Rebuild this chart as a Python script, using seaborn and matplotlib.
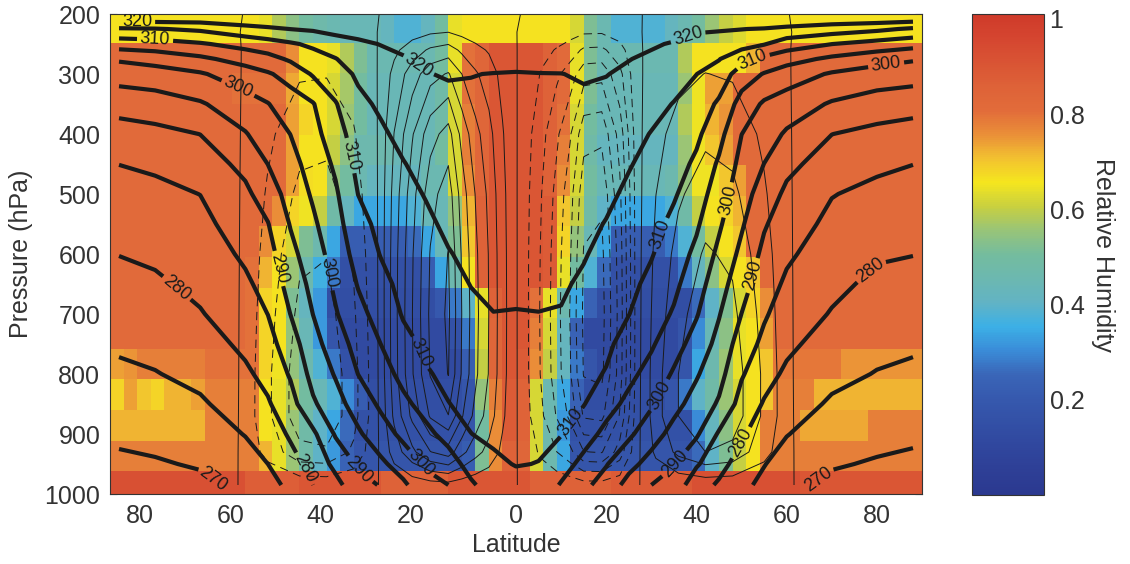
import numpy as np
import matplotlib
matplotlib.use("Agg")
import matplotlib.pyplot as plt
from matplotlib.transforms import ScaledTranslation
import seaborn as sns

# ---------------------------------------------------------------
# relative humidity (percent) per pressure band, 3 deg columns 90S..90N
# ---------------------------------------------------------------
lat_edges = list(range(-90, 91, 3))
p_edges = [200, 248, 299, 350, 401, 452, 503, 554, 605, 656, 707, 758, 809, 860, 911, 962, 1000]

rh_200 = [66, 66, 66, 66, 66, 66, 66, 66, 66, 66, 66, 64, 58, 54, 50, 47, 45, 44, 44, 44,
          42, 38, 38, 42, 50, 64, 66, 66, 66, 66, 66, 66, 66, 66, 62, 52, 45, 38, 38, 38,
          38, 42, 45, 50, 56, 60, 63, 66, 66, 66, 66, 66, 66, 66, 66, 66, 66, 66, 66, 66]
rh_248 = [82, 82, 82, 82, 82, 82, 82, 82, 82, 82, 82, 82, 82, 76, 66, 66, 64, 58, 52, 45,
          45, 45, 45, 45, 50, 64, 80, 84, 90, 90, 90, 90, 86, 82, 64, 52, 45, 45, 45, 45,
          45, 45, 58, 66, 66, 66, 66, 72, 82, 82, 82, 82, 82, 82, 82, 82, 82, 82, 82, 82]
rh_299 = [82, 82, 82, 82, 82, 82, 82, 82, 82, 80, 80, 80, 80, 73, 66, 66, 62, 57, 50, 44,
          44, 44, 44, 44, 48, 62, 80, 84, 90, 90, 90, 90, 86, 82, 64, 52, 44, 44, 44, 44,
          44, 44, 56, 65, 74, 74, 82, 82, 82, 82, 82, 82, 82, 82, 82, 82, 82, 82, 82, 82]
rh_350 = [82, 82, 82, 82, 82, 82, 82, 82, 82, 82, 82, 82, 82, 74, 68, 66, 62, 56, 50, 44,
          44, 44, 44, 44, 48, 62, 78, 84, 90, 90, 90, 90, 86, 80, 62, 50, 44, 44, 44, 44,
          44, 44, 58, 65, 72, 75, 82, 82, 82, 82, 82, 82, 82, 82, 82, 82, 82, 82, 82, 82]
rh_401 = [82, 82, 82, 82, 82, 82, 82, 82, 82, 82, 82, 82, 82, 74, 66, 66, 60, 54, 46, 46,
          46, 44, 44, 44, 50, 62, 78, 84, 90, 90, 90, 90, 86, 78, 62, 48, 42, 42, 42, 42,
          42, 42, 56, 65, 70, 74, 82, 82, 82, 82, 82, 82, 82, 82, 82, 82, 82, 82, 82, 82]
rh_452 = [82, 82, 82, 82, 82, 82, 82, 82, 82, 82, 82, 82, 82, 74, 67, 66, 55, 50, 45, 42,
          42, 42, 42, 45, 45, 62, 76, 84, 90, 90, 90, 90, 86, 76, 62, 50, 44, 44, 44, 44,
          44, 46, 55, 65, 65, 70, 74, 82, 82, 82, 82, 82, 82, 82, 82, 82, 82, 82, 82, 82]
rh_503 = [82, 82, 82, 82, 82, 82, 82, 82, 82, 82, 82, 82, 76, 68, 65, 60, 48, 42, 34, 34,
          34, 34, 38, 44, 44, 55, 72, 86, 90, 90, 90, 90, 88, 70, 60, 48, 40, 34, 34, 34,
          34, 38, 48, 60, 66, 68, 72, 82, 82, 82, 82, 82, 82, 82, 82, 82, 82, 82, 82, 82]
rh_554 = [82, 82, 82, 82, 82, 82, 82, 82, 82, 82, 82, 76, 68, 62, 52, 46, 34, 22, 22, 22,
          22, 22, 26, 34, 44, 52, 70, 86, 90, 90, 90, 90, 88, 68, 55, 44, 34, 22, 22, 22,
          22, 28, 38, 50, 60, 66, 70, 82, 82, 82, 82, 82, 82, 82, 82, 82, 82, 82, 82, 82]
rh_605 = [82, 82, 82, 82, 82, 82, 82, 82, 82, 82, 80, 72, 66, 56, 46, 36, 28, 15, 15, 15,
          15, 15, 15, 22, 34, 46, 66, 86, 90, 90, 90, 90, 88, 64, 50, 38, 26, 15, 15, 15,
          15, 15, 28, 42, 54, 62, 66, 70, 82, 82, 82, 82, 82, 82, 82, 82, 82, 82, 82, 82]
rh_656 = [82, 82, 82, 82, 82, 82, 82, 82, 82, 82, 80, 68, 66, 52, 42, 32, 14, 14, 14, 14,
          14, 14, 14, 14, 20, 28, 40, 64, 86, 90, 90, 80, 64, 46, 34, 24, 14, 14, 14, 14,
          14, 14, 14, 26, 40, 52, 62, 68, 76, 82, 82, 82, 82, 82, 82, 82, 82, 82, 82, 82]
rh_707 = [82, 82, 82, 82, 82, 82, 82, 82, 82, 82, 80, 68, 66, 55, 44, 32, 18, 12, 12, 12,
          12, 12, 12, 12, 12, 16, 28, 62, 84, 90, 90, 78, 62, 42, 24, 12, 12, 12, 12, 12,
          12, 12, 18, 30, 44, 54, 64, 66, 74, 82, 82, 82, 82, 82, 82, 82, 82, 82, 82, 82]
rh_758 = [74, 75, 78, 78, 78, 78, 78, 80, 80, 80, 80, 68, 65, 55, 46, 38, 28, 16, 12, 12,
          12, 12, 12, 12, 12, 12, 22, 60, 84, 90, 88, 76, 60, 42, 28, 18, 12, 12, 12, 12,
          12, 12, 18, 34, 46, 56, 64, 66, 70, 79, 79, 79, 79, 79, 75, 75, 75, 75, 75, 75]
rh_809 = [68, 74, 70, 68, 72, 72, 74, 78, 78, 78, 78, 66, 64, 58, 50, 44, 38, 30, 22, 14,
          14, 14, 14, 14, 14, 14, 18, 55, 78, 88, 85, 62, 45, 34, 24, 14, 14, 14, 14, 14,
          14, 18, 28, 40, 48, 56, 62, 66, 70, 78, 78, 78, 72, 72, 72, 72, 72, 72, 72, 72]
rh_860 = [72, 72, 72, 72, 72, 72, 72, 78, 78, 78, 78, 66, 64, 56, 48, 40, 34, 26, 16, 16,
          16, 16, 16, 16, 16, 16, 18, 50, 76, 88, 85, 62, 46, 32, 16, 16, 16, 16, 16, 16,
          16, 16, 16, 30, 42, 54, 62, 66, 78, 78, 78, 73, 73, 73, 73, 73, 78, 78, 78, 78]
rh_911 = [78, 78, 78, 78, 78, 78, 78, 78, 78, 78, 78, 72, 64, 56, 48, 40, 32, 24, 18, 18,
          18, 18, 18, 18, 18, 18, 22, 52, 76, 86, 84, 62, 46, 34, 18, 18, 18, 18, 18, 18,
          18, 18, 18, 26, 40, 52, 60, 66, 78, 78, 78, 78, 78, 78, 78, 78, 78, 78, 78, 78]
rh_962 = [92, 92, 92, 92, 92, 92, 92, 92, 92, 92, 87, 87, 87, 87, 90, 90, 90, 90, 90, 90,
          86, 86, 86, 86, 86, 90, 90, 90, 90, 90, 90, 86, 86, 86, 86, 86, 86, 88, 88, 88,
          88, 88, 88, 92, 92, 92, 92, 92, 92, 92, 92, 90, 90, 90, 90, 90, 90, 90, 90, 90]

# ---------------------------------------------------------------
# potential temperature (K), one column per latitude
# ---------------------------------------------------------------
lat_theta = [-88, -80, -70, -60, -55, -50, -45, -40, -35, -30, -25, -20, -15, -10, -5, 0,
             5, 10, 15, 20, 25, 30, 35, 40, 45, 50, 55, 60, 70, 80, 88]
p_theta = [200, 225, 250, 275, 300, 350, 400, 450, 500, 550, 600, 650, 700, 750, 800, 850, 900, 950, 985]

th_88s = [326.0, 314.4, 307.4, 300.6, 297.2, 291.8, 288.0, 285.05, 283.3, 281.7, 280.1, 278.6, 277.2, 275.7, 274.1, 272.5, 270.8, 269.2, 268.0]
th_80s = [326.0, 314.7, 308.0, 301.8, 297.9, 292.6, 288.7, 285.7, 283.9, 282.4, 280.8, 279.3, 277.8, 276.3, 274.8, 273.1, 271.3, 269.6, 268.4]
th_70s = [325.5, 315.8, 309.5, 304.0, 299.5, 294.5, 290.05, 287.5, 285.05, 283.7, 282.4, 281.1, 279.7, 277.9, 276.2, 274.4, 272.4, 270.4, 269.0]
th_60s = [325.5, 318.3, 311.7, 306.9, 302.7, 297.9, 294.7, 291.3, 289.0, 287.4, 285.8, 284.2, 282.6, 281.0, 279.2, 277.2, 275.2, 272.9, 271.2]
th_55s = [325.5, 319.2, 313.0, 308.3, 304.5, 299.8, 297.4, 295.05, 292.4, 289.8, 288.2, 286.6, 285.05, 283.2, 281.4, 279.5, 277.2, 275.0, 273.4]
th_50s = [326.0, 320.05, 314.4, 310.7, 306.7, 302.8, 300.05, 298.4, 296.9, 295.3, 293.6, 291.8, 290.05, 287.7, 285.5, 283.1, 280.7, 278.1, 276.1]
th_45s = [327.0, 320.6, 315.9, 313.0, 310.5, 304.7, 303.3, 301.9, 300.6, 299.2, 297.8, 296.4, 295.05, 293.3, 291.6, 289.3, 284.0, 281.7, 280.0]
th_40s = [329.0, 321.4, 318.0, 314.8, 313.0, 309.7, 307.8, 305.8, 304.3, 303.2, 302.0, 300.9, 299.6, 297.5, 295.4, 293.2, 290.5, 286.3, 283.5]
th_35s = [331.0, 321.3, 319.4, 317.6, 315.7, 313.9, 312.6, 311.3, 310.05, 308.4, 306.9, 305.3, 303.6, 301.8, 300.05, 297.2, 294.3, 290.7, 288.2]
th_30s = [332.0, 321.5, 320.1, 319.0, 317.8, 315.7, 314.3, 313.3, 312.2, 311.2, 310.2, 308.6, 306.8, 305.0, 302.9, 300.8, 297.9, 294.0, 290.3]
th_25s = [334.0, 324.0, 320.6, 319.8, 319.1, 317.6, 316.2, 314.8, 313.9, 313.0, 312.1, 311.3, 310.4, 308.6, 306.4, 303.9, 301.1, 297.3, 294.1]
th_20s = [336.0, 326.0, 322.0, 320.4, 319.9, 318.7, 317.6, 316.4, 315.2, 314.3, 313.4, 312.5, 311.6, 310.8, 309.6, 306.7, 303.8, 300.6, 298.4]
th_15s = [338.0, 328.0, 323.0, 321.0, 320.2, 319.3, 318.4, 317.5, 316.6, 315.7, 314.8, 313.8, 312.9, 311.9, 310.9, 309.9, 306.6, 302.9, 300.0]
th_10s = [340.0, 330.0, 324.0, 321.2, 320.1, 319.3, 318.6, 317.9, 317.2, 316.5, 315.8, 315.1, 314.2, 313.1, 312.1, 311.0, 309.95, 306.7, 304.3]
th_05s = [342.0, 331.0, 325.0, 321.5, 319.9, 319.3, 318.7, 318.1, 317.5, 316.9, 316.2, 315.6, 314.95, 314.0, 312.9, 311.9, 310.8, 309.2, 307.3]
th_00 = [343.0, 332.0, 325.0, 321.2, 319.8, 319.2, 318.6, 318.0, 317.4, 316.8, 316.2, 315.5, 314.9, 313.9, 313.0, 312.1, 311.1, 310.2, 308.5]
th_05n = [342.0, 331.0, 325.0, 321.4, 319.9, 319.3, 318.7, 318.1, 317.5, 316.9, 316.2, 315.6, 314.95, 314.0, 313.0, 311.9, 310.9, 309.9, 308.3]
th_10n = [340.0, 330.0, 324.0, 321.2, 319.95, 319.4, 318.7, 318.1, 317.4, 316.8, 316.2, 315.5, 314.8, 313.6, 312.5, 311.4, 310.2, 307.1, 304.6]
th_15n = [338.0, 328.0, 323.0, 321.0, 320.3, 319.4, 318.6, 317.8, 316.9, 316.1, 315.3, 314.4, 313.3, 312.3, 311.3, 310.2, 307.1, 303.6, 301.1]
th_20n = [336.0, 326.0, 322.0, 320.6, 320.1, 319.0, 317.9, 316.9, 315.9, 314.8, 313.8, 312.8, 311.9, 310.9, 309.7, 306.8, 303.7, 300.3, 298.0]
th_25n = [334.0, 324.5, 321.2, 320.1, 319.4, 318.0, 316.6, 315.3, 314.2, 313.2, 312.1, 311.1, 310.1, 308.2, 306.2, 303.8, 300.9, 296.5, 293.3]
th_30n = [332.0, 322.5, 320.4, 319.4, 318.4, 316.6, 314.8, 313.7, 312.6, 311.5, 310.3, 308.9, 307.3, 305.6, 303.3, 300.6, 297.1, 293.2, 290.0]
th_35n = [330.0, 321.5, 319.7, 318.4, 317.2, 314.8, 313.3, 312.0, 310.5, 308.9, 307.5, 306.1, 304.5, 302.0, 299.4, 296.5, 293.4, 290.3, 288.0]
th_40n = [328.0, 320.5, 318.7, 316.8, 315.05, 313.0, 311.0, 309.1, 307.4, 305.7, 303.9, 302.1, 300.4, 298.0, 295.5, 293.1, 290.7, 285.6, 282.0]
th_45n = [327.0, 320.4, 317.8, 315.2, 313.0, 309.2, 306.6, 304.3, 302.5, 300.7, 298.9, 297.1, 295.3, 293.5, 291.7, 289.4, 284.4, 281.5, 279.4]
th_50n = [327.0, 320.1, 316.9, 311.7, 307.5, 303.1, 300.05, 298.5, 297.1, 295.6, 293.8, 291.9, 289.95, 287.7, 285.5, 283.1, 280.7, 278.1, 276.2]
th_55n = [327.0, 319.7, 315.3, 308.8, 304.7, 299.3, 297.2, 294.95, 292.7, 290.5, 288.8, 287.2, 285.6, 283.8, 281.7, 279.6, 277.4, 275.2, 273.8]
th_60n = [326.0, 318.9, 312.5, 306.9, 302.5, 297.7, 294.4, 291.3, 289.0, 287.4, 285.8, 284.2, 282.6, 281.0, 279.2, 277.2, 275.2, 272.9, 271.2]
th_70n = [325.5, 317.5, 310.05, 304.0, 299.5, 294.5, 290.05, 287.6, 285.2, 283.8, 282.4, 281.1, 279.7, 277.9, 276.2, 274.4, 272.4, 270.4, 269.0]
th_80n = [326.0, 316.0, 308.2, 301.8, 297.9, 292.6, 288.7, 285.9, 283.8, 282.2, 280.5, 279.0, 277.6, 276.2, 274.8, 273.1, 271.3, 269.6, 268.4]
th_88n = [326.0, 314.3, 306.8, 300.5, 297.2, 291.8, 288.0, 285.05, 283.3, 281.7, 280.1, 278.6, 277.1, 275.7, 274.1, 272.5, 270.8, 269.1, 268.0]

# ---------------------------------------------------------------
# mass streamfunction (arbitrary units), one column per latitude
# ---------------------------------------------------------------
lat_psi = [-88, -75, -62, -55, -48, -42, -36, -31, -27, -23, -19, -15, -12, -9, -6, -3, 0,
           3, 6, 9, 12, 15, 19, 23, 27, 31, 36, 42, 48, 55, 62, 75, 88]
p_psi = [200, 230, 260, 300, 400, 500, 600, 700, 800, 870, 930, 985]

psi_88s = [0.01, 0.05, 0.12, 0.20, 0.31, 0.37, 0.39, 0.40, 0.39, 0.34, 0.22, 0.03]
psi_75s = [0.02, 0.10, 0.24, 0.40, 0.62, 0.74, 0.78, 0.80, 0.78, 0.68, 0.44, 0.06]
psi_62s = [0.01, 0.02, 0.05, 0.08, 0.12, 0.14, 0.15, 0.15, 0.15, 0.13, 0.08, 0.01]
psi_55s = [-0.04, -0.14, -0.27, -0.45, -0.81, -1.12, -1.40, -1.62, -1.80, -1.80, -1.35, -0.18]
psi_48s = [-0.07, -0.29, -0.54, -0.90, -1.62, -2.23, -2.81, -3.24, -3.60, -3.60, -2.70, -0.36]
psi_42s = [-0.08, -0.30, -0.57, -0.95, -1.71, -2.36, -2.96, -3.42, -3.80, -3.80, -2.85, -0.38]
psi_36s = [-0.05, -0.19, -0.36, -0.60, -1.08, -1.49, -1.87, -2.16, -2.40, -2.40, -1.80, -0.24]
psi_31s = [-0.01, -0.02, -0.05, -0.08, -0.14, -0.19, -0.23, -0.27, -0.30, -0.30, -0.23, -0.03]
psi_27s = [0.05, 0.31, 0.78, 1.30, 2.03, 2.39, 2.55, 2.60, 2.55, 2.21, 1.43, 0.21]
psi_23s = [0.10, 0.60, 1.50, 2.50, 3.90, 4.60, 4.90, 4.98, 4.90, 4.25, 2.75, 0.40]
psi_19s = [0.14, 0.86, 2.16, 3.60, 5.62, 6.62, 7.06, 7.20, 7.06, 6.12, 3.96, 0.58]
psi_15s = [0.16, 0.98, 2.46, 4.10, 6.40, 7.54, 8.04, 8.20, 8.04, 6.97, 4.51, 0.66]
psi_12s = [0.12, 0.72, 1.80, 3.00, 4.68, 5.52, 5.88, 5.98, 5.88, 5.10, 3.30, 0.48]
psi_09s = [0.09, 0.52, 1.29, 2.15, 3.35, 3.96, 4.21, 4.30, 4.21, 3.66, 2.37, 0.34]
psi_06s = [0.06, 0.36, 0.90, 1.50, 2.34, 2.76, 2.94, 2.98, 2.94, 2.55, 1.65, 0.24]
psi_03s = [0.03, 0.17, 0.42, 0.70, 1.09, 1.29, 1.37, 1.40, 1.37, 1.19, 0.77, 0.11]
psi_00 = [0.01, 0.01, 0.03, 0.05, 0.08, 0.09, 0.10, 0.10, 0.10, 0.09, 0.06, 0.01]
psi_03n = [-0.02, -0.13, -0.33, -0.55, -0.86, -1.01, -1.08, -1.10, -1.08, -0.94, -0.61, -0.09]
psi_06n = [-0.05, -0.28, -0.69, -1.15, -1.79, -2.12, -2.25, -2.30, -2.25, -1.96, -1.27, -0.18]
psi_09n = [-0.07, -0.43, -1.08, -1.80, -2.81, -3.31, -3.53, -3.60, -3.53, -3.06, -1.98, -0.29]
psi_12n = [-0.10, -0.60, -1.50, -2.50, -3.90, -4.60, -4.90, -5.05, -4.90, -4.25, -2.75, -0.40]
psi_15n = [-0.14, -0.86, -2.16, -3.60, -5.62, -6.62, -7.06, -7.20, -7.06, -6.12, -3.96, -0.58]
psi_19n = [-0.15, -0.89, -2.22, -3.70, -5.77, -6.81, -7.25, -7.40, -7.25, -6.29, -4.07, -0.59]
psi_23n = [-0.09, -0.55, -1.38, -2.30, -3.59, -4.23, -4.51, -4.60, -4.51, -3.91, -2.53, -0.37]
psi_27n = [-0.01, -0.04, -0.09, -0.15, -0.23, -0.28, -0.29, -0.30, -0.29, -0.26, -0.17, -0.02]
psi_31n = [0.03, 0.13, 0.24, 0.40, 0.72, 0.99, 1.25, 1.44, 1.60, 1.60, 1.20, 0.16]
psi_36n = [0.06, 0.24, 0.45, 0.75, 1.35, 1.86, 2.34, 2.70, 3.00, 3.00, 2.25, 0.30]
psi_42n = [0.08, 0.32, 0.60, 1.02, 1.80, 2.48, 3.12, 3.60, 4.00, 4.00, 3.00, 0.40]
psi_48n = [0.07, 0.29, 0.54, 0.90, 1.62, 2.23, 2.81, 3.24, 3.60, 3.60, 2.70, 0.36]
psi_55n = [0.04, 0.14, 0.27, 0.45, 0.81, 1.12, 1.40, 1.62, 1.80, 1.80, 1.35, 0.18]
psi_62n = [-0.01, -0.02, -0.05, -0.08, -0.12, -0.14, -0.15, -0.15, -0.15, -0.13, -0.08, -0.01]
psi_75n = [-0.02, -0.10, -0.24, -0.40, -0.62, -0.74, -0.78, -0.80, -0.78, -0.68, -0.44, -0.06]
psi_88n = [-0.01, -0.05, -0.12, -0.20, -0.31, -0.37, -0.39, -0.40, -0.39, -0.34, -0.22, -0.03]

theta_major = [270, 280, 290, 300, 310, 320]
theta_minor = [275, 285, 295, 305, 315]
psi_neg_levels = [-8, -7, -6, -5, -4, -3, -2, -1]
psi_pos_levels = [0, 1, 2, 3, 4, 5, 6, 7, 8]

xtick_vals = [-80, -60, -40, -20, 0, 20, 40, 60, 80]
xtick_text = ["80", "60", "40", "20", "0", "20", "40", "60", "80"]
ytick_vals = [200, 300, 400, 500, 600, 700, 800, 900, 1000]
cbar_ticks = [0.2, 0.4, 0.6, 0.8, 1.0]
cbar_text = ["0.2", "0.4", "0.6", "0.8", "1"]

# where the contour labels sit (lat, hPa)
label_spots = [(-84, 213), (-80, 240), (-61, 313), (-21, 280), (-39, 440), (-53, 625),
               (-42, 632), (-75, 655), (-23, 770), (-67, 975), (-48, 962), (-35, 962),
               (-22, 955), (38, 235), (52, 270), (82, 282), (31, 565), (47, 510),
               (52, 635), (78, 622), (13, 885), (33, 840), (34, 945), (50, 915), (67, 975)]

# ---------------------------------------------------------------
sns.set_theme(style="ticks")
plt.rcParams["font.family"] = ["Liberation Sans", "DejaVu Sans"]
plt.rcParams["lines.scale_dashes"] = False
text_col = "#333333"

rh_colors = ["#2b3990", "#2e3f96", "#30479e", "#3350a6", "#3659ae", "#3a66b8", "#3a8cd8",
             "#3cb0e6", "#62b3c4", "#6cb8b0", "#74bc9e", "#98c478", "#c8d040", "#f5e61e",
             "#f2c230", "#ea8f38", "#e26c3a", "#de6238", "#d95434", "#d54630", "#cf3a2a"]
rh_cmap = sns.blend_palette(rh_colors, n_colors=256, as_cmap=True)

rh = np.array([rh_200, rh_248, rh_299, rh_350, rh_401, rh_452, rh_503, rh_554,
               rh_605, rh_656, rh_707, rh_758, rh_809, rh_860, rh_911, rh_962]) / 100.0
theta = np.column_stack([th_88s, th_80s, th_70s, th_60s, th_55s, th_50s, th_45s, th_40s,
                         th_35s, th_30s, th_25s, th_20s, th_15s, th_10s, th_05s, th_00,
                         th_05n, th_10n, th_15n, th_20n, th_25n, th_30n, th_35n, th_40n,
                         th_45n, th_50n, th_55n, th_60n, th_70n, th_80n, th_88n])
psi = np.column_stack([psi_88s, psi_75s, psi_62s, psi_55s, psi_48s, psi_42s, psi_36s, psi_31s,
                       psi_27s, psi_23s, psi_19s, psi_15s, psi_12s, psi_09s, psi_06s, psi_03s,
                       psi_00, psi_03n, psi_06n, psi_09n, psi_12n, psi_15n, psi_19n, psi_23n,
                       psi_27n, psi_31n, psi_36n, psi_42n, psi_48n, psi_55n, psi_62n, psi_75n,
                       psi_88n])

fig = plt.figure(figsize=(11.3, 5.64), dpi=100)
ax = fig.add_axes([110 / 1130, 70 / 564, 812 / 1130, 480 / 564])
cax = fig.add_axes([972 / 1130, 69 / 564, 72 / 1130, 481 / 564])

mesh = ax.pcolormesh(lat_edges, p_edges, rh, cmap=rh_cmap, vmin=0, vmax=1.01, shading="flat")
ax.set_xlim(-90, 90)
ax.set_ylim(1000, 200)

# thin streamfunction contours: dashed negative, solid zero / positive
cs_neg = ax.contour(lat_psi, p_psi, psi, levels=psi_neg_levels, colors="k", linewidths=0.7)
cs_neg.set_linestyle((0, (6, 4)))
ax.contour(lat_psi, p_psi, psi, levels=psi_pos_levels, colors="k", linewidths=0.7,
           linestyles="solid")

# thick potential temperature contours, every 10 K labelled
ax.contour(lat_theta, p_theta, theta, levels=theta_minor, colors="k", linewidths=3.0)
cs_major = ax.contour(lat_theta, p_theta, theta, levels=theta_major, colors="k", linewidths=3.0)
ax.clabel(cs_major, fmt="%d", fontsize=13, inline=True, inline_spacing=3, manual=label_spots)

ax.set_xticks(xtick_vals)
ax.set_xticklabels(xtick_text)
ax.set_yticks(ytick_vals)
ax.tick_params(direction="in", length=5, width=0.8, top=True, right=True,
               labelsize=18, labelcolor=text_col, color=text_col, pad=7)
shift = ScaledTranslation(-15 / 100, 0, fig.dpi_scale_trans)
for lbl in ax.get_xticklabels()[:4]:
    lbl.set_transform(lbl.get_transform() + shift)
ax.set_xlabel("Latitude", fontsize=18, color=text_col, labelpad=4)
ax.set_ylabel("Pressure (hPa)", fontsize=18, color=text_col, labelpad=8)
for sp in ax.spines.values():
    sp.set_linewidth(0.8)
    sp.set_color(text_col)

cb = fig.colorbar(mesh, cax=cax)
cb.set_ticks(cbar_ticks)
cb.set_ticklabels(cbar_text)
cax.tick_params(direction="in", length=5, width=0.8, left=True, right=True,
                labelsize=18, labelcolor=text_col, color=text_col, pad=4)
cb.outline.set_linewidth(0.8)
cb.outline.set_edgecolor(text_col)
cb.set_label("Relative Humidity", rotation=-90, fontsize=18, color=text_col, labelpad=22)

fig.savefig("out.png", dpi=100)
